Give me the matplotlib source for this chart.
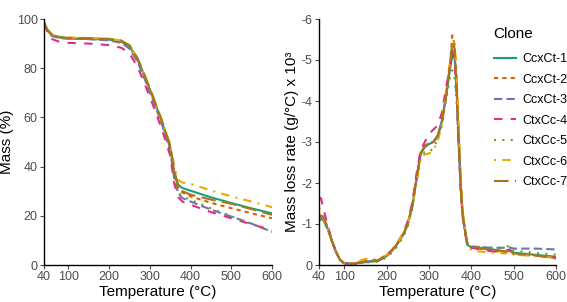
import matplotlib
matplotlib.use("Agg")
import matplotlib.pyplot as plt

plt.rcParams['font.family'] = ['Liberation Sans', 'DejaVu Sans']

clones = ["CcxCt-1", "CcxCt-2", "CcxCt-3", "CtxCc-4", "CtxCc-5", "CtxCc-6", "CtxCc-7"]
colors = ["#1B9E77", "#D95F02", "#7570B3", "#E7298A", "#66A61E", "#E6AB02", "#A6761D"]
dashes = [None, (2, 2), (4, 2), (4, 4), (1, 3), (1, 3, 4, 3), (7, 3)]

# Thermogravimetric curves: mass (%)
t_mass = [40, 50, 60, 80, 100, 150, 200, 230, 250, 270, 290, 310, 330, 350, 360, 370, 380, 400, 450, 500, 550, 600]
mass_ccxct1 = [98.5, 95, 93.3, 92.4, 92.1, 91.9, 91.6, 90.8, 88.8, 83.5, 75.5, 67, 58, 47.6, 37.5, 32.5, 31.3, 30.2, 27.5, 25.2, 23, 21]
mass_ccxct2 = [98.5, 95.2, 93.5, 92.5, 92.2, 92.1, 91.8, 91, 89, 83.5, 75.5, 67, 58, 48, 38, 31, 29.5, 27.9, 25.3, 23.1, 21, 19]
mass_ccxct3 = [98, 94.8, 93, 92.2, 92, 91.8, 91.3, 90.3, 88, 82.5, 74.5, 66, 57, 46.5, 35, 29, 27.2, 25.8, 22.5, 19.7, 16.8, 13.5]
mass_ctxcc4 = [98, 94, 91.8, 90.6, 90.3, 90, 89.4, 88.3, 86, 80.5, 72.5, 64, 55, 44.5, 33, 27.5, 25.8, 24.5, 21.5, 19, 16.5, 14.2]
mass_ctxcc5 = [98.3, 95, 93.2, 92.4, 92.1, 92, 91.6, 90.7, 88.5, 83, 75, 66.5, 57.5, 47, 36, 29.5, 27.8, 26.5, 23, 19.8, 16.7, 13.5]
mass_ctxcc6 = [98.8, 95.5, 93.8, 92.8, 92.5, 92.3, 92, 91.2, 89.3, 84, 76, 67.5, 58.5, 49, 40, 34.5, 33.5, 33, 30.3, 27.9, 25.8, 23.5]
mass_ctxcc7 = [98.5, 95.2, 93.5, 92.6, 92.3, 92.2, 91.9, 91.2, 89.3, 84, 76, 67.5, 58.5, 48.5, 38.5, 31.5, 30, 28.6, 26.6, 24.9, 22.7, 20.4]

# Derivative curves: mass loss rate (g/°C) x 10^3
t_dtg = [40, 45, 50, 60, 70, 80, 90, 100, 120, 150, 180, 200, 220, 240, 250, 260, 270, 280, 290, 300,
         310, 320, 330, 340, 350, 355, 360, 365, 370, 375, 380, 390, 400, 450, 480, 490, 500, 550, 600]
dtg_ccxct1 = [-1.15, -1.12, -1.1, -0.9, -0.6, -0.32, -0.12, -0.04, -0.03, -0.07, -0.1, -0.22, -0.43, -0.75, -1.0, -1.4, -2.05, -2.7, -2.88, -2.95,
              -3.0, -3.15, -3.5, -4.1, -4.8, -5.1, -5.1, -4.3, -3.0, -1.85, -1.15, -0.5, -0.43, -0.38, -0.33, -0.38, -0.3, -0.25, -0.2]
dtg_ccxct2 = [-1.2, -1.18, -1.15, -0.92, -0.6, -0.33, -0.12, -0.04, -0.03, -0.1, -0.12, -0.24, -0.45, -0.78, -1.03, -1.45, -2.1, -2.72, -2.9, -2.97,
              -3.0, -3.13, -3.45, -4.1, -4.95, -5.6, -5.4, -4.5, -3.1, -1.9, -1.2, -0.53, -0.43, -0.35, -0.3, -0.36, -0.27, -0.23, -0.18]
dtg_ccxct3 = [-1.15, -1.13, -1.1, -0.9, -0.6, -0.32, -0.12, -0.04, -0.03, -0.08, -0.11, -0.23, -0.44, -0.76, -1.0, -1.42, -2.07, -2.72, -2.9, -2.96,
              -3.0, -3.14, -3.47, -4.1, -4.9, -5.3, -5.25, -4.4, -3.05, -1.9, -1.2, -0.55, -0.45, -0.42, -0.42, -0.43, -0.4, -0.4, -0.38]
dtg_ctxcc4 = [-1.65, -1.62, -1.4, -0.98, -0.62, -0.33, -0.12, -0.04, -0.03, -0.08, -0.11, -0.23, -0.45, -0.8, -1.08, -1.5, -2.2, -2.8, -3.0, -3.2,
              -3.3, -3.4, -3.7, -4.3, -4.9, -5.2, -5.0, -4.2, -2.9, -1.8, -1.12, -0.5, -0.42, -0.33, -0.3, -0.36, -0.27, -0.23, -0.18]
dtg_ctxcc5 = [-1.1, -1.08, -1.05, -0.88, -0.58, -0.3, -0.11, -0.04, -0.03, -0.06, -0.08, -0.18, -0.38, -0.7, -0.95, -1.35, -2.0, -2.6, -2.75, -2.75,
              -2.85, -3.05, -3.4, -4.0, -4.6, -4.75, -4.6, -4.0, -2.9, -1.8, -1.15, -0.5, -0.45, -0.42, -0.42, -0.48, -0.35, -0.3, -0.25]
dtg_ctxcc6 = [-1.4, -1.3, -1.15, -0.9, -0.6, -0.32, -0.12, -0.05, -0.05, -0.15, -0.13, -0.25, -0.46, -0.78, -1.0, -1.38, -2.0, -2.6, -2.7, -2.72,
              -2.8, -3.0, -3.4, -4.2, -5.0, -5.3, -5.5, -4.8, -3.5, -2.2, -1.3, -0.5, -0.35, -0.3, -0.28, -0.35, -0.25, -0.22, -0.17]
dtg_ctxcc7 = [-1.22, -1.2, -1.18, -0.94, -0.61, -0.33, -0.12, -0.04, -0.03, -0.08, -0.12, -0.24, -0.45, -0.77, -1.02, -1.43, -2.08, -2.73, -2.9, -2.97,
              -3.0, -3.13, -3.46, -4.1, -4.93, -5.45, -5.3, -4.4, -3.05, -1.9, -1.18, -0.53, -0.45, -0.37, -0.33, -0.4, -0.28, -0.24, -0.16]

mass_series = [mass_ccxct1, mass_ccxct2, mass_ccxct3, mass_ctxcc4, mass_ctxcc5, mass_ctxcc6, mass_ctxcc7]
dtg_series = [dtg_ccxct1, dtg_ccxct2, dtg_ccxct3, dtg_ctxcc4, dtg_ctxcc5, dtg_ctxcc6, dtg_ctxcc7]

x_ticks = [40, 100, 200, 300, 400, 500, 600]

fig = plt.figure(figsize=(5.67, 3.02), dpi=100)
ax1 = fig.add_axes([44/567, 1-265/302, 228/567, 246/302])
ax2 = fig.add_axes([319/567, 1-265/302, 237/567, 246/302])

lw = 1.5
handles = []
for i in range(7):
    kw = dict(color=colors[i], lw=lw, label=clones[i])
    l1, = ax1.plot(t_mass, mass_series[i], **kw)
    l2, = ax2.plot(t_dtg, dtg_series[i], **kw)
    if dashes[i] is not None:
        l1.set_dashes(dashes[i])
        l2.set_dashes(dashes[i])
    handles.append(l2)

tick_color = "#4D4D4D"
for ax in (ax1, ax2):
    ax.set_xlim(40, 600)
    ax.set_xticks(x_ticks)
    for s in ("top", "right"):
        ax.spines[s].set_visible(False)
    for s in ("left", "bottom"):
        ax.spines[s].set_linewidth(1.0)
        ax.spines[s].set_color("black")
    ax.tick_params(direction="out", length=3, width=0.8, colors=tick_color, labelsize=9, pad=1.5)
    ax.set_xlabel("Temperature (°C)", fontsize=11, labelpad=1)

ax1.set_ylim(0, 100)
ax1.set_yticks([0, 20, 40, 60, 80, 100])
ax1.set_ylabel("Mass (%)", fontsize=11, labelpad=2)

ax2.set_ylim(0, -6)
ax2.set_yticks([0, -1, -2, -3, -4, -5, -6])
ax2.set_yticklabels(["0", "-1", "-2", "-3", "-4", "-5", "-6"])
ax2.set_ylabel("Mass loss rate (g/°C) x 10³", fontsize=11, labelpad=2)

leg = fig.legend(handles=handles, labels=clones, loc="upper left", bbox_to_anchor=(490/567, 1-23/302),
                 frameon=False, title="Clone", fontsize=9, title_fontsize=11, handlelength=1.8,
                 labelspacing=0.68, handletextpad=0.5, borderaxespad=0, borderpad=0.3, alignment="left")
leg._legend_box.sep = 9

fig.savefig("out.png", dpi=100)
